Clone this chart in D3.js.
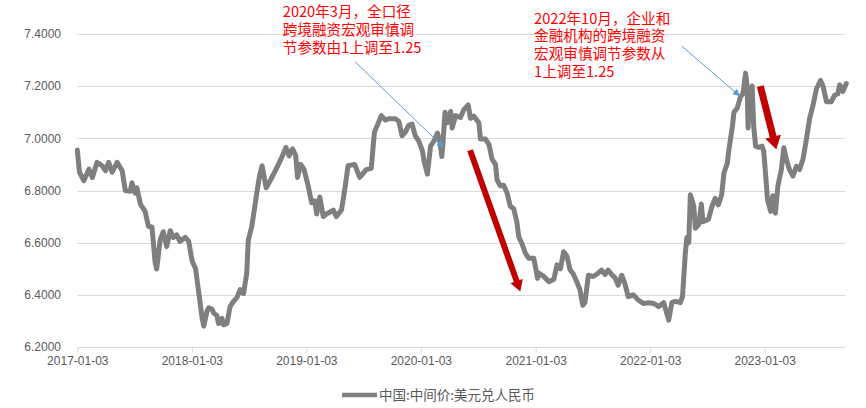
<!DOCTYPE html>
<html><head><meta charset="utf-8">
<script src="https://cdn.jsdelivr.net/npm/d3@7"></script>
<style>
html,body{margin:0;padding:0;background:#fff;}
svg{display:block;}
</style></head>
<body>
<svg id="chart" width="866" height="408"></svg>
<script>
// ---- data ----
const seriesName = "中国:中间价:美元兑人民币";
const dates = [
"2017-01-03","2017-01-10","2017-01-24","2017-02-09","2017-02-20","2017-03-07","2017-03-23","2017-04-03","2017-04-13","2017-04-24",
"2017-05-10","2017-05-26","2017-06-05","2017-06-21","2017-06-26","2017-07-07","2017-07-12","2017-07-23","2017-08-07","2017-08-18",
"2017-08-29","2017-09-08","2017-09-13","2017-09-24","2017-10-04","2017-10-15","2017-10-26","2017-11-05","2017-11-16","2017-11-26",
"2017-12-13","2017-12-24",
"2018-01-04","2018-01-15","2018-01-25","2018-02-05","2018-02-10","2018-02-21","2018-02-26","2018-03-08","2018-03-14","2018-03-24",
"2018-03-29","2018-04-09","2018-04-14","2018-04-25","2018-05-05","2018-05-16","2018-05-27","2018-06-06","2018-06-17","2018-06-27",
"2018-07-02","2018-07-13","2018-07-18","2018-07-29","2018-08-07","2018-08-15","2018-08-28","2018-09-13","2018-09-28","2018-10-14",
"2018-10-30","2018-11-09","2018-11-20","2018-11-30","2018-12-06","2018-12-16","2018-12-27",
"2019-01-09","2019-01-20","2019-01-30","2019-02-05","2019-02-15","2019-02-26","2019-03-08","2019-03-30","2019-04-09","2019-04-25",
"2019-05-05","2019-05-16","2019-06-06","2019-06-22","2019-07-13","2019-07-29","2019-08-08","2019-08-30","2019-09-12","2019-09-23",
"2019-10-14","2019-10-25","2019-11-04","2019-11-15","2019-11-25","2019-12-06","2019-12-16","2019-12-27",
"2020-01-08","2020-01-14","2020-01-24","2020-02-03","2020-02-14","2020-02-25","2020-03-03","2020-03-10","2020-03-14","2020-03-20",
"2020-03-27","2020-04-07","2020-04-12","2020-04-23","2020-05-08","2020-05-19","2020-06-02","2020-06-09","2020-06-20","2020-07-06",
"2020-07-11","2020-07-27","2020-08-07","2020-08-17","2020-08-28","2020-09-02","2020-09-12","2020-09-23","2020-10-04","2020-10-14",
"2020-10-25","2020-11-04","2020-11-10","2020-11-20","2020-12-01","2020-12-12","2020-12-28",
"2021-01-09","2021-01-14","2021-01-29","2021-02-14","2021-03-02","2021-03-12","2021-03-23","2021-04-02","2021-04-12","2021-04-23",
"2021-05-03","2021-05-14","2021-05-24","2021-06-02","2021-06-09","2021-06-20","2021-07-06","2021-07-21","2021-08-01","2021-08-12",
"2021-08-22","2021-09-02","2021-09-13","2021-09-23","2021-10-04","2021-10-14","2021-10-25","2021-11-10","2021-11-26","2021-12-12",
"2021-12-29",
"2022-01-14","2022-01-30","2022-02-15","2022-03-03","2022-03-13","2022-03-24","2022-04-09","2022-04-16","2022-04-25","2022-04-30",
"2022-05-06","2022-05-11","2022-05-22","2022-05-27","2022-06-07","2022-06-15","2022-06-20","2022-07-08","2022-07-19","2022-07-29",
"2022-08-08","2022-08-19","2022-08-26","2022-09-06","2022-09-11","2022-09-22","2022-09-27","2022-10-07","2022-10-18","2022-10-26",
"2022-11-03","2022-11-08","2022-11-11","2022-11-17","2022-11-24","2022-11-29","2022-12-05","2022-12-15","2022-12-26","2022-12-31",
"2023-01-07","2023-01-12","2023-01-22","2023-01-29","2023-02-06","2023-02-14","2023-02-25","2023-03-05","2023-03-13","2023-03-23",
"2023-04-03","2023-04-14","2023-04-24","2023-05-05","2023-05-16","2023-05-26","2023-06-06","2023-06-17","2023-06-30","2023-07-08",
"2023-07-19","2023-08-03","2023-08-14","2023-08-24","2023-08-30","2023-09-09","2023-09-20"
];
const values = [
6.955,6.870,6.837,6.882,6.850,6.908,6.895,6.876,6.908,6.870,
6.908,6.876,6.800,6.797,6.830,6.790,6.810,6.748,6.720,6.662,
6.660,6.525,6.499,6.610,6.642,6.585,6.646,6.620,6.630,6.605,
6.620,6.605,
6.530,6.500,6.410,6.310,6.280,6.340,6.350,6.345,6.330,6.320,
6.290,6.310,6.285,6.290,6.355,6.375,6.390,6.420,6.405,6.483,
6.610,6.662,6.700,6.790,6.857,6.895,6.810,6.845,6.880,6.920,
6.965,6.933,6.960,6.935,6.850,6.900,6.880,
6.817,6.753,6.760,6.710,6.775,6.700,6.710,6.725,6.700,6.725,
6.800,6.895,6.900,6.850,6.880,6.885,7.023,7.087,7.070,7.075,
7.075,7.065,7.010,7.025,7.050,7.055,7.010,6.990,
6.952,6.908,6.863,6.970,6.990,7.020,6.990,6.930,6.990,7.100,
7.060,7.103,7.040,7.087,7.080,7.110,7.128,7.077,7.085,7.060,
6.997,6.997,6.977,6.920,6.900,6.840,6.818,6.820,6.790,6.740,
6.730,6.680,6.623,6.597,6.560,6.540,6.540,
6.463,6.483,6.470,6.450,6.460,6.515,6.500,6.565,6.550,6.495,
6.480,6.450,6.420,6.360,6.370,6.475,6.470,6.483,6.495,6.478,
6.495,6.478,6.465,6.437,6.475,6.445,6.393,6.400,6.380,6.367,
6.370,
6.367,6.355,6.370,6.303,6.370,6.375,6.370,6.393,6.560,6.620,
6.600,6.784,6.740,6.655,6.670,6.748,6.680,6.690,6.740,6.770,
6.745,6.785,6.867,6.905,6.958,7.045,7.100,7.115,7.160,7.172,
7.250,7.200,7.040,7.180,7.200,7.045,6.970,6.965,6.970,6.950,
6.843,6.765,6.720,6.780,6.713,6.817,6.880,6.964,6.920,6.880,
6.855,6.893,6.880,6.920,6.997,7.075,7.127,7.190,7.222,7.200,
7.140,7.140,7.166,7.170,7.205,7.180,7.210
];
const xTickLabels = ["2017-01-03","2018-01-03","2019-01-03","2020-01-03","2021-01-03","2022-01-03","2023-01-03"];
const yTicks = [6.2,6.4,6.6,6.8,7.0,7.2,7.4];

// annotations (anchored in data space)
const note1Lines = ["2020年3月，全口径","跨境融资宏观审慎调","节参数由1上调至1.25"];
const note1Anchor = {date:"2018-10-20", value:7.483};
const note1Arrow = {from:{date:"2019-06-07", value:7.294}, to:{date:"2020-03-17", value:6.964}};
const note2Lines = ["2022年10月，企业和","金融机构的跨境融资","宏观审慎调节参数从","1上调至1.25"];
const note2Anchor = {date:"2020-12-29", value:7.459};
const note2Arrow = {from:{date:"2022-04-13", value:7.354}, to:{date:"2022-10-16", value:7.162}};
const redArrows = [
  {from:{date:"2020-06-08", value:6.954}, to:{date:"2020-11-15", value:6.413}, shaft:6, headW:13, headL:11},
  {from:{date:"2022-12-20", value:7.200}, to:{date:"2023-02-09", value:6.958}, shaft:7, headW:16, headL:13}
];

(function(){
const parse = d3.timeParse("%Y-%m-%d");
const data = dates.map((d,i)=>({date:parse(d), value:values[i]}));
const svg = d3.select("#chart");
const mLeft = 77.3, mRight = 845, mTop = 34, mBottom = 347;
const tickDates = xTickLabels.map(parse);

const x = d3.scaleTime()
  .domain([tickDates[0], tickDates[tickDates.length-1]])
  .range([mLeft, 764.7]);
const y = d3.scaleLinear().domain([6.2,7.4]).range([mBottom, mTop]);

// gridlines
svg.append("g").selectAll("line").data(yTicks).join("line")
  .attr("x1", mLeft).attr("x2", mRight)
  .attr("y1", d=>Math.round(y(d))+0.5).attr("y2", d=>Math.round(y(d))+0.5)
  .attr("stroke", "#d9d9d9").attr("stroke-width", 1);

// y labels
svg.append("g").selectAll("text").data(yTicks).join("text")
  .attr("x", 61).attr("y", d=>y(d)).attr("dy","0.35em")
  .attr("text-anchor","end")
  .attr("font-family","'Liberation Sans', Arial, sans-serif")
  .attr("font-size", 12).attr("fill","#595959")
  .text(d=>d3.format(".4f")(d));

// x axis
const xAxis = d3.axisBottom(x)
  .tickValues(tickDates)
  .tickFormat((d,i)=>xTickLabels[i])
  .tickSize(5).tickSizeOuter(0);
const gx = svg.append("g").attr("transform", `translate(0,${Math.round(mBottom)+0.5})`).call(xAxis);
gx.select(".domain").remove();
gx.selectAll(".tick line").attr("stroke","#d9d9d9");
gx.selectAll(".tick text")
  .attr("y", 9).attr("dy","0.71em")
  .attr("font-family","'Liberation Sans', Arial, sans-serif")
  .attr("font-size", 12).attr("fill","#595959");

// series line
const line = d3.line().x(d=>x(d.date)).y(d=>y(d.value)).curve(d3.curveLinear);
svg.append("path").datum(data)
  .attr("d", line)
  .attr("fill","none").attr("stroke","#7f7f7f")
  .attr("stroke-width", 5).attr("stroke-linejoin","round").attr("stroke-linecap","round");

// red arrows
function arrowPath(x1,y1,x2,y2,sw,hw,hl){
  const dx=x2-x1, dy=y2-y1, L=Math.hypot(dx,dy);
  const ux=dx/L, uy=dy/L, px=-uy, py=ux;
  const bx=x2-ux*hl, by=y2-uy*hl;
  const pts=[
    [x1+px*sw/2, y1+py*sw/2],[bx+px*sw/2, by+py*sw/2],[bx+px*hw/2, by+py*hw/2],[x2,y2],
    [bx-px*hw/2, by-py*hw/2],[bx-px*sw/2, by-py*sw/2],[x1-px*sw/2, y1-py*sw/2]
  ];
  return "M"+pts.map(p=>p.join(",")).join("L")+"Z";
}
svg.append("g").selectAll("path").data(redArrows).join("path")
  .attr("d", a=>arrowPath(x(parse(a.from.date)), y(a.from.value), x(parse(a.to.date)), y(a.to.value), a.shaft, a.headW, a.headL))
  .attr("fill","#c00000");

// blue annotation arrows
const defs = svg.append("defs");
defs.append("marker").attr("id","bluehead").attr("viewBox","0 0 10 10")
  .attr("refX",10).attr("refY",5).attr("markerWidth",9).attr("markerHeight",7)
  .attr("markerUnits","userSpaceOnUse").attr("orient","auto")
  .append("path").attr("d","M0,0L10,5L0,10Z").attr("fill","#5b9bd5");
[note1Arrow, note2Arrow].forEach(a=>{
  svg.append("line")
    .attr("x1", x(parse(a.from.date))).attr("y1", y(a.from.value))
    .attr("x2", x(parse(a.to.date))).attr("y2", y(a.to.value))
    .attr("stroke","#5b9bd5").attr("stroke-width",1)
    .attr("marker-end","url(#bluehead)");
});

// annotation text (one text element per line)
function note(lines, anchor, lh){
  const g = svg.append("g")
    .attr("font-family","'Noto Sans CJK SC', sans-serif")
    .attr("font-size", 14.6).attr("fill","#ff0000");
  const ax = x(parse(anchor.date)), ay = y(anchor.value);
  lines.forEach((s,i)=>{
    g.append("text").attr("x", ax).attr("y", ay + i*lh).attr("dy","0.35em").text(s);
  });
}
note(note1Lines, note1Anchor, 17.7);
note(note2Lines, note2Anchor, 17.7);

// legend
const lg = svg.append("g");
lg.append("line").attr("x1",342).attr("x2",377).attr("y1",395).attr("y2",395)
  .attr("stroke","#7f7f7f").attr("stroke-width",4.5);
lg.append("text").attr("x",379).attr("y",395).attr("dy","0.35em")
  .attr("font-family","'Noto Sans CJK SC', sans-serif")
  .attr("font-size",13.5).attr("fill","#595959")
  .text(seriesName);
})();
</script>
</body></html>
